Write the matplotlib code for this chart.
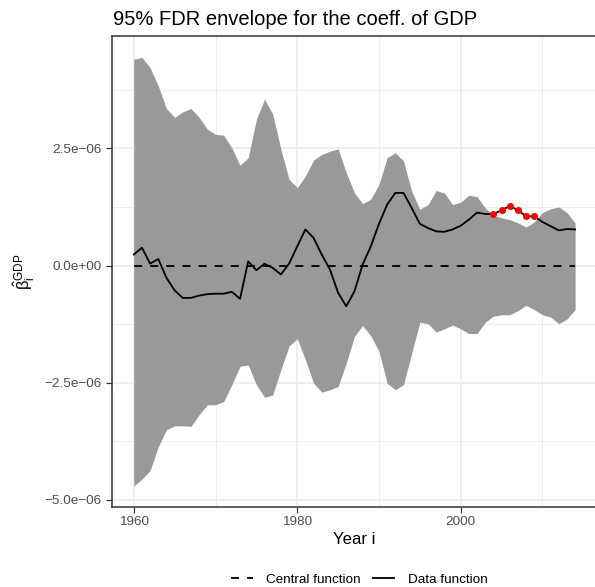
import numpy as np
import matplotlib
matplotlib.use("Agg")
import matplotlib.pyplot as plt
from matplotlib.lines import Line2D

plt.rcParams["font.family"] = ["Liberation Sans", "DejaVu Sans"]
plt.rcParams["mathtext.fontset"] = "custom"
plt.rcParams["mathtext.rm"] = "Liberation Sans"
plt.rcParams["mathtext.it"] = "Liberation Sans:italic"
plt.rcParams["mathtext.bf"] = "Liberation Sans:bold"

# ---- data (coefficient values in units of 1e-6) ----
years = np.arange(1960, 2015)

upper = np.array([
    4.40, 4.44, 4.22, 3.83, 3.35, 3.16, 3.28, 3.35, 3.16, 2.91,
    2.80, 2.78, 2.51, 2.14, 2.30, 3.12, 3.55, 3.23, 2.48, 1.84,
    1.66, 1.91, 2.25, 2.37, 2.44, 2.49, 1.98, 1.55, 1.32, 1.42,
    1.73, 2.30, 2.41, 2.23, 1.59, 1.20, 1.30, 1.60, 1.55, 1.30,
    1.35, 1.50, 1.47, 1.23, 1.07, 1.02, 0.98, 0.91, 0.82, 0.93,
    1.13, 1.21, 1.25, 1.13, 0.91]) * 1e-6

lower = np.array([
    -4.70, -4.56, -4.37, -3.86, -3.50, -3.42, -3.42, -3.43, -3.18, -2.97,
    -2.97, -2.90, -2.54, -2.15, -2.12, -2.54, -2.81, -2.76, -2.22, -1.72,
    -1.56, -2.01, -2.51, -2.70, -2.65, -2.58, -2.08, -1.51, -1.28, -1.50,
    -1.83, -2.51, -2.65, -2.54, -1.87, -1.21, -1.24, -1.42, -1.35, -1.27,
    -1.35, -1.45, -1.45, -1.21, -1.08, -1.05, -1.05, -0.96, -0.85, -0.94,
    -1.05, -1.10, -1.24, -1.14, -0.94]) * 1e-6

data_fn = np.array([
    0.235, 0.38, 0.04, 0.14, -0.26, -0.53, -0.69, -0.69, -0.64, -0.61,
    -0.60, -0.60, -0.56, -0.71, 0.09, -0.10, 0.04, -0.05, -0.19, 0.04,
    0.41, 0.77, 0.59, 0.235, -0.085, -0.58, -0.87, -0.55, 0.02, 0.41,
    0.89, 1.30, 1.55, 1.55, 1.23, 0.89, 0.80, 0.73, 0.72, 0.77,
    0.85, 0.98, 1.13, 1.10, 1.10, 1.18, 1.27, 1.18, 1.05, 1.05,
    0.93, 0.84, 0.75, 0.78, 0.77]) * 1e-6

central_fn = np.zeros_like(data_fn)

x_ticks = [1960, 1980, 2000]
x_minor = [1970, 1990, 2010]
y_ticks = [-5.0e-6, -2.5e-6, 0.0, 2.5e-6]
y_tick_labels = ["\u22125.0e\u221206", "\u22122.5e\u221206", "0.0e+00", "2.5e\u221206"]
y_minor = [-3.75e-6, -1.25e-6, 1.25e-6, 3.75e-6]

title = "95% FDR envelope for the coeff. of GDP"
x_label = "Year i"
y_label = r"$\hat{\mathrm{\beta}}_{\mathrm{i}}^{\mathrm{GDP}}$"
legend_labels = ["Central function", "Data function"]

# ---- figure ----
W, H, DPI = 595, 587, 110
fig = plt.figure(figsize=(W / DPI, H / DPI), dpi=DPI)

px_left, px_right, px_top, px_bottom = 111.7, 597.2, 36.0, 507.3
ax = fig.add_axes([px_left / W, 1 - px_bottom / H,
                   (px_right - px_left) / W, (px_bottom - px_top) / H])

def expand(lo, hi, f=0.05):
    d = (hi - lo) * f
    return lo - d, hi + d

ax.set_xlim(*expand(years.min(), years.max()))
ax.set_ylim(*expand(min(lower.min(), data_fn.min()), max(upper.max(), data_fn.max())))

grid_col = "#EBEBEB"
for v in x_ticks:
    ax.axvline(v, color=grid_col, lw=1.07, zorder=0)
for v in x_minor:
    ax.axvline(v, color=grid_col, lw=0.55, zorder=0)
for v in y_ticks:
    ax.axhline(v, color=grid_col, lw=1.07, zorder=0)
for v in y_minor:
    ax.axhline(v, color=grid_col, lw=0.55, zorder=0)

ax.fill_between(years, lower, upper, color="#999999", lw=0, zorder=1)
ax.plot(years, central_fn, color="black", lw=1.2, dashes=(4.4, 4.4), zorder=2)
ax.plot(years, data_fn, color="black", lw=1.2, zorder=3)

out = data_fn > upper
ax.plot(years[out], data_fn[out], "o", color="#FF0000", ms=4.6, mec="none", zorder=4)

ax.set_xticks(x_ticks)
ax.set_xticklabels([str(v) for v in x_ticks])
ax.set_yticks(y_ticks)
ax.set_yticklabels(y_tick_labels)
ax.tick_params(axis="both", length=4.0, width=0.8, color="#333333",
               labelcolor="#4D4D4D", labelsize=8.8)
ax.tick_params(axis="x", pad=1.8)
ax.tick_params(axis="y", pad=2.4)
for s in ax.spines.values():
    s.set_color("#333333")
    s.set_linewidth(1.0)

fig.text(112.7 / W, 1 - 25.0 / H, title, fontsize=13.2, ha="left", va="baseline")
fig.text(354.5 / W, 1 - 544.3 / H, x_label, fontsize=11, ha="center", va="baseline")
fig.text(24.0 / W, 1 - 271.7 / H, y_label, fontsize=11, rotation=90,
         ha="center", va="center")

handles = [Line2D([], [], color="black", lw=1.2, dashes=(4.4, 4.4)),
           Line2D([], [], color="black", lw=1.2)]
fig.legend(handles, legend_labels, loc="center", ncol=2, frameon=False,
           bbox_to_anchor=(359.5 / W, 1 - 579.3 / H), fontsize=8.8,
           handlelength=1.6, handletextpad=1.0, columnspacing=0.9)

fig.savefig("out.png", dpi=DPI)
